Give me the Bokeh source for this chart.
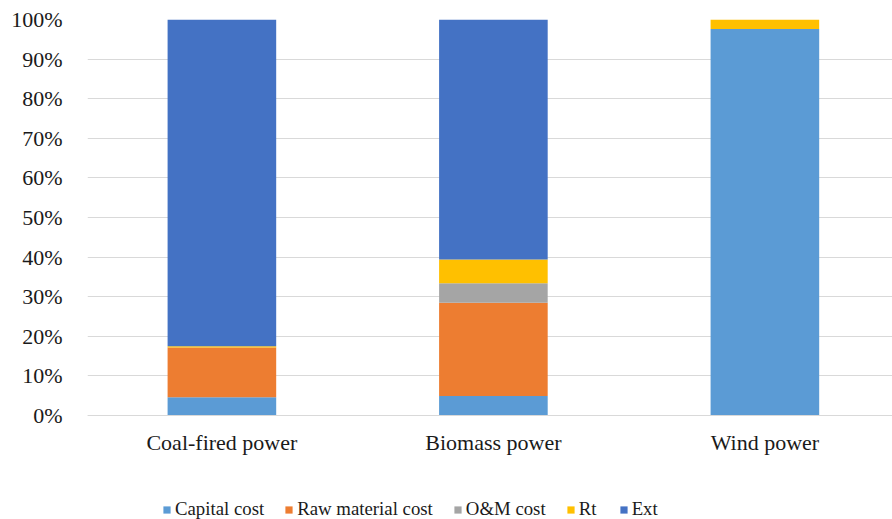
from bokeh.plotting import figure
from bokeh.models import Range1d, FixedTicker, Legend, LegendItem
from bokeh.embed import file_html
from bokeh.resources import INLINE

categories = ["Coal-fired power", "Biomass power", "Wind power"]
series_names = ["Capital cost", "Raw material cost", "O&M cost", "Rt", "Ext"]
capital = [4.6, 4.9, 97.6]
raw_material = [12.6, 23.6, 0.0]
om_cost = [0.0, 4.9, 0.0]
rt = [0.3, 6.0, 2.4]
ext = [82.5, 60.6, 0.0]
y_ticks = [0, 10, 20, 30, 40, 50, 60, 70, 80, 90, 100]

colors = ["#5B9BD5", "#ED7D31", "#A5A5A5", "#FFC000", "#4472C4"]
FONT = "Liberation Serif"

xpos = [i + 0.5 for i in range(len(categories))]
data = dict(x=xpos, capital=capital, raw=raw_material, om=om_cost, rt=rt, ext=ext)
keys = ["capital", "raw", "om", "rt", "ext"]

# frame spans the full height below the top border; the value axis 0 sits 104px above the bottom
p = figure(width=892, height=519, output_backend="svg", toolbar_location=None,
           x_range=Range1d(0.005, 2.97), y_range=Range1d(-26.26, 100),
           min_border_left=87, min_border_right=0, min_border_top=19, min_border_bottom=0)
p.outline_line_color = None
p.background_fill_color = "white"

rs = p.vbar_stack(keys, x="x", width=0.4, source=data, color=colors, line_color=None)

p.xgrid.visible = False
p.ygrid.grid_line_color = "#d9d9d9"
p.ygrid.grid_line_width = 1

p.yaxis.ticker = FixedTicker(ticks=y_ticks)
p.yaxis.major_label_overrides = {t: f"{t}%" for t in y_ticks}
p.yaxis.axis_line_color = None
p.yaxis.major_tick_line_color = None
p.yaxis.minor_tick_line_color = None
p.yaxis.major_label_standoff = 19
p.yaxis.major_label_text_font = FONT
p.yaxis.major_label_text_font_size = "22px"
p.yaxis.major_label_text_color = "#1a1a1a"

p.xaxis.fixed_location = 0
p.xaxis.ticker = FixedTicker(ticks=xpos)
p.xaxis.major_label_overrides = {x: c for x, c in zip(xpos, categories)}
p.xaxis.axis_line_color = "#d9d9d9"
p.xaxis.major_tick_line_color = None
p.xaxis.minor_tick_line_color = None
p.xaxis.major_label_standoff = 8
p.xaxis.major_label_text_font = FONT
p.xaxis.major_label_text_font_size = "22px"
p.xaxis.major_label_text_color = "#1a1a1a"

legend = Legend(items=[LegendItem(label=n, renderers=[r]) for n, r in zip(series_names, rs)],
                orientation="horizontal", location=(75, -1),
                padding=0, margin=0, spacing=20, label_standoff=4,
                glyph_width=9, glyph_height=9,
                label_text_font=FONT, label_text_font_size="18.8px", label_text_color="#1a1a1a",
                border_line_color=None, background_fill_alpha=0)
p.add_layout(legend, "center")

open("out.html", "w").write(file_html(p, INLINE))
